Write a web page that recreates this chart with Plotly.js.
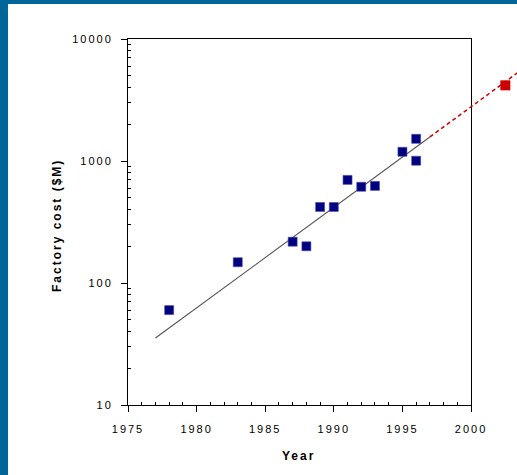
<!DOCTYPE html>
<html>
<head>
<meta charset="utf-8">
<script src="https://cdn.plot.ly/plotly-3.0.1.min.js"></script>
<style>
html, body { margin: 0; padding: 0; background: #ffffff; }
#wrap { position: relative; width: 517px; height: 475px; overflow: hidden; }
#chart { position: absolute; left: 0; top: 0; width: 517px; height: 475px; }
#bandL { position: absolute; left: 0; top: 0; width: 8px; height: 475px; background: #006699; }
#bandT { position: absolute; left: 0; top: 0; width: 517px; height: 4px; background: #006699; }
.xtick text, .ytick text { letter-spacing: 2px; }
.annotation-text { letter-spacing: 2px; }
</style>
</head>
<body>
<div id="wrap">
  <div id="chart"></div>
  <div id="bandL"></div>
  <div id="bandT"></div>
</div>
<script>
// Observed factories: year and cost ($M)
const years = [1978, 1983, 1987, 1988, 1989, 1990, 1991, 1992, 1993, 1995, 1996, 1996];
const costs = [60, 148, 218, 200, 420, 420, 700, 615, 625, 1190, 1520, 1005];

// Projected factory
const forecastYears = [2002.5];
const forecastCosts = [4170];

// Trend line (fit) and its dashed extrapolation
const trendYears = [1977, 1997];
const trendCosts = [35.4, 1574];
const extYears = [1997, 2004];
const extCosts = [1574, 5940];

// Axis ticks
const xTickVals = [1975, 1980, 1985, 1990, 1995, 2000];
const xTickText = ['1975', '1980', '1985', '1990', '1995', '2000'];
const xMinorVals = [1976, 1977, 1978, 1979, 1981, 1982, 1983, 1984, 1986, 1987, 1988, 1989,
                    1991, 1992, 1993, 1994, 1996, 1997, 1998, 1999];
const yTickVals = [10, 100, 1000, 10000];
const yTickText = ['10', '100', '1000', '10000'];
const yMinorVals = [20, 30, 40, 50, 60, 70, 80, 90,
                    200, 300, 400, 500, 600, 700, 800, 900,
                    2000, 3000, 4000, 5000, 6000, 7000, 8000, 9000];

const xStart = 1975, xFrameEnd = 2000, xFullEnd = 2003.35;

const traces = [
  {
    x: trendYears, y: trendCosts, xaxis: 'x', yaxis: 'y',
    mode: 'lines', line: { color: '#555555', width: 1.1 },
    hoverinfo: 'skip', showlegend: false
  },
  {
    x: extYears, y: extCosts, xaxis: 'x2', yaxis: 'y',
    mode: 'lines', line: { color: '#cc0000', width: 1.5, dash: '4px,3px' },
    hoverinfo: 'skip', showlegend: false
  },
  {
    x: years, y: costs, xaxis: 'x', yaxis: 'y',
    mode: 'markers', cliponaxis: false,
    marker: { symbol: 'square', size: 9, color: '#000080', line: { width: 0.6, color: '#4a4aa8' } },
    showlegend: false
  },
  {
    x: forecastYears, y: forecastCosts, xaxis: 'x2', yaxis: 'y',
    mode: 'markers', cliponaxis: false,
    marker: { symbol: 'square', size: 10, color: '#cc0000' },
    showlegend: false
  }
];

const tickFont = { family: 'Liberation Sans, Arial, sans-serif', size: 11, color: '#000000' };
const titleFont = { family: 'Liberation Sans, Arial, sans-serif', size: 12, color: '#000000', weight: 'bold' };

const layout = {
  width: 517, height: 475,
  margin: { l: 128, r: 0, t: 39, b: 70, pad: 0 },
  paper_bgcolor: '#ffffff',
  plot_bgcolor: 'rgba(0,0,0,0)',
  showlegend: false,
  xaxis: {
    domain: [0, (xFrameEnd - xStart) / (xFullEnd - xStart)],
    range: [xStart, xFrameEnd],
    anchor: 'y',
    automargin: false,
    showgrid: false, zeroline: false,
    showline: true, linecolor: '#000000', linewidth: 1, mirror: true,
    ticks: 'outside', ticklen: 6, tickwidth: 1, tickcolor: '#000000',
    tickmode: 'array', tickvals: xTickVals, ticktext: xTickText,
    tickfont: tickFont, ticklabelstandoff: 8,
    minor: { tickmode: 'array', tickvals: xMinorVals, ticks: 'inside', ticklen: 3, tickwidth: 1, tickcolor: '#000000', showgrid: false }
  },
  xaxis2: {
    domain: [0, 1],
    range: [xStart, xFullEnd],
    anchor: 'y',
    visible: false,
    showgrid: false, zeroline: false
  },
  yaxis: {
    type: 'log',
    range: [1, 4],
    anchor: 'x',
    automargin: false,
    showgrid: false, zeroline: false,
    showline: true, linecolor: '#000000', linewidth: 1, mirror: true,
    ticks: 'outside', ticklen: 6, tickwidth: 1, tickcolor: '#000000',
    tickmode: 'array', tickvals: yTickVals, ticktext: yTickText,
    tickfont: tickFont, ticklabelstandoff: 6,
    minor: { tickmode: 'array', tickvals: yMinorVals, ticks: 'inside', ticklen: 3, tickwidth: 1, tickcolor: '#000000', showgrid: false }
  },
  annotations: [
    {
      text: 'Year', xref: 'x', yref: 'paper', x: 1987.4, y: (405 - 456) / 366,
      xanchor: 'center', yanchor: 'middle', showarrow: false, font: titleFont
    },
    {
      text: 'Factory cost ($M)', xref: 'paper', yref: 'paper', x: (57 - 128) / 389, y: (405 - 226) / 366,
      xanchor: 'center', yanchor: 'middle', textangle: -90, showarrow: false, font: titleFont
    }
  ]
};

Plotly.newPlot('chart', traces, layout, { displayModeBar: false, staticPlot: true });
</script>
</body>
</html>
